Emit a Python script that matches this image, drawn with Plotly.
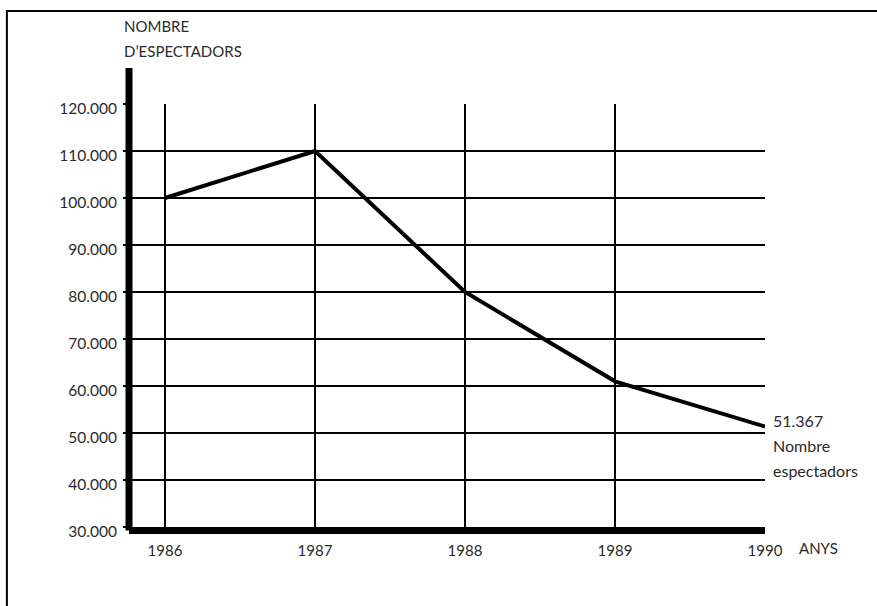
import plotly.graph_objects as go

# Dades
anys = [1986, 1987, 1988, 1989, 1990]
espectadors = [100000, 110000, 80000, 61000, 51367]
y_ticks = [30000, 40000, 50000, 60000, 70000, 80000, 90000, 100000, 110000, 120000]
y_labels = ['30.000', '40.000', '50.000', '60.000', '70.000', '80.000', '90.000', '100.000', '110.000', '120.000']
x_labels = ['1986', '1987', '1988', '1989', '1990']
titol = ['NOMBRE', 'D’ESPECTADORS']
etiqueta_final = [f'{espectadors[-1]:,}'.replace(',', '.'), 'Nombre', 'espectadors']

FONT = 'Lato, Liberation Sans, sans-serif'
INK = '#2a2a2a'

fig = go.Figure()
fig.add_trace(go.Scatter(
    x=anys,
    y=espectadors,
    mode='lines',
    line=dict(color='black', width=4),
    showlegend=False,
    hoverinfo='skip'
))

# Marc exterior
fig.add_shape(type='rect', xref='paper', yref='paper',
              x0=-0.192, x1=1.3, y0=-0.3, y1=1.22,
              line=dict(color='black', width=2), layer='below')
# Eix vertical gruixut (s'allarga per sobre de la graella)
fig.add_shape(type='line', xref='paper', yref='paper',
              x0=0, x1=0, y0=-0.008, y1=1.085,
              line=dict(color='black', width=7))

# Títol de l'eix, una línia per anotació
for i, t in enumerate(titol):
    fig.add_annotation(xref='paper', yref='paper', x=0, y=1, xanchor='left', yanchor='middle',
                       xshift=-7, yshift=78 - 25 * i, showarrow=False, text=t,
                       font=dict(family=FONT, size=15, color=INK))
# Etiqueta final
for i, t in enumerate(etiqueta_final):
    fig.add_annotation(x=anys[-1], y=espectadors[-1], xanchor='left', yanchor='middle',
                       xshift=6, yshift=6 - 25 * i, showarrow=False, text=t,
                       font=dict(family=FONT, size=16, color=INK))
fig.add_annotation(xref='paper', yref='paper', x=1, y=0, xanchor='left', yanchor='middle',
                   xshift=32, yshift=-21, showarrow=False, text='ANYS',
                   font=dict(family=FONT, size=15, color=INK))

fig.update_layout(
    width=877,
    height=606,
    margin=dict(l=129, r=112, t=104, b=79),
    plot_bgcolor='white',
    paper_bgcolor='white',
    font=dict(family=FONT, size=15, color=INK),
    xaxis=dict(
        range=[1985.76, 1990],
        tickvals=anys,
        ticktext=x_labels,
        showgrid=True,
        gridcolor='black',
        gridwidth=1.5,
        zeroline=False,
        showline=True,
        linecolor='black',
        linewidth=7,
        ticks='',
        ticklabelstandoff=4,
        tickfont=dict(size=15),
    ),
    yaxis=dict(
        range=[30000, 120000],
        tickvals=y_ticks,
        ticktext=y_labels,
        showgrid=True,
        gridcolor='black',
        gridwidth=1.5,
        zeroline=False,
        showline=False,
        ticks='outside',
        ticklen=5,
        tickwidth=2,
        tickcolor='black',
        ticklabelshift=5,
        ticklabelstandoff=3,
        tickfont=dict(size=15.5),
    ),
)

fig.write_html('out.html', config={'displayModeBar': False},
               post_script="document.body.style.margin='0';")
